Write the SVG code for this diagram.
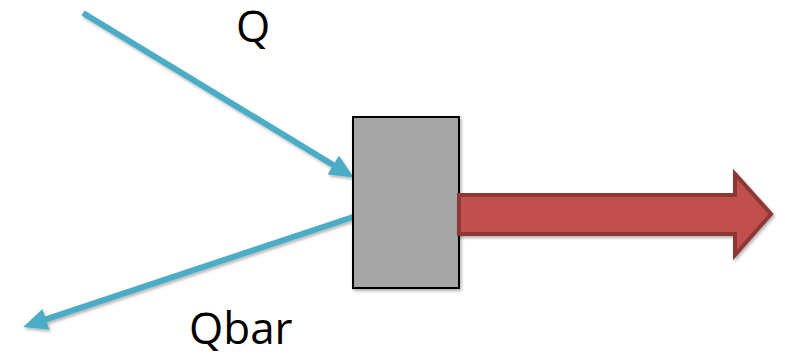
<svg xmlns="http://www.w3.org/2000/svg" width="785" height="356" viewBox="0 0 785 356">
<style>
.lbl{font-family:"Open Sans","Noto Sans","Liberation Sans",sans-serif;font-size:44px;fill:#000}
.blue{stroke:#4BACC6;stroke-width:6;fill:none}
</style>
<defs>
<filter id="sh" x="-20%" y="-20%" width="140%" height="140%">
<feDropShadow dx="1.5" dy="2" stdDeviation="1.5" flood-color="#000" flood-opacity="0.3"/>
</filter>
<marker id="ah" markerUnits="userSpaceOnUse" markerWidth="24" markerHeight="22" viewBox="0 0 24 22" refX="1" refY="11" orient="auto">
<path d="M0,0 L24,11 L0,22 z" fill="#4BACC6"/>
</marker>
</defs>
<g id="connectors" filter="url(#sh)">
<line class="blue" x1="83" y1="13" x2="334" y2="165.5" marker-end="url(#ah)"/>
<line class="blue" x1="353" y1="217" x2="45" y2="319.7" marker-end="url(#ah)"/>
</g>
<g id="block">
<rect x="353" y="117" width="106" height="171" fill="#A6A6A6" stroke="#000" stroke-width="2" filter="url(#sh)"/>
</g>
<g id="output-arrow">
<polygon points="459,195 735,195 735,174 771,214 735,255 735,234 459,234" fill="#C0504D" stroke="#8C3836" stroke-width="4" stroke-linejoin="miter" filter="url(#sh)"/>
</g>
<g id="label-q">
<text class="lbl" x="236" y="42">Q</text>
</g>
<g id="label-qbar">
<text class="lbl" x="189" y="344">Qbar</text>
</g>
</svg>
